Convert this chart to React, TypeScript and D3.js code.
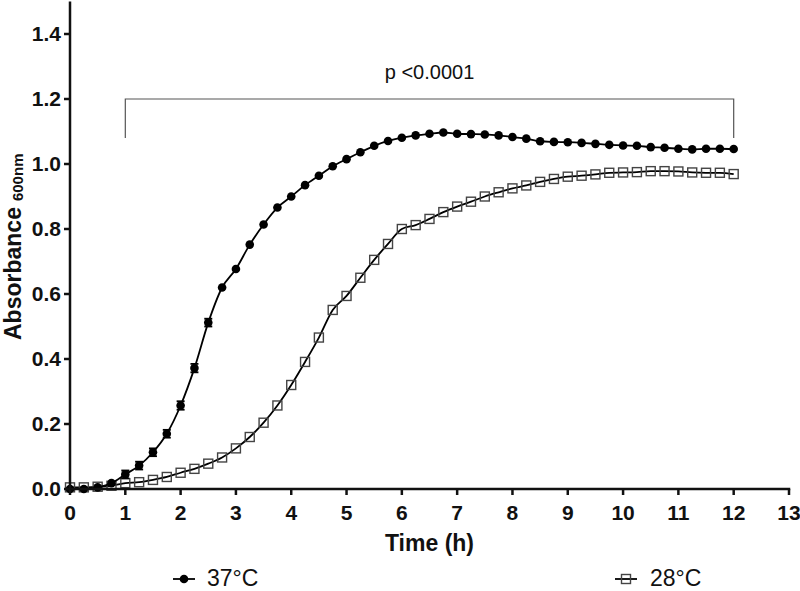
import React from "react";
import * as d3 from "d3";

const times: number[] = d3.range(0, 12.001, 0.25).map((t) => +t.toFixed(2));

const series37: number[] = [
  0.0, 0.0, 0.005, 0.018, 0.045, 0.072, 0.113, 0.17, 0.257, 0.372, 0.512, 0.62,
  0.677, 0.752, 0.814, 0.866, 0.9, 0.935, 0.964, 0.993, 1.015, 1.036, 1.056, 1.071,
  1.081, 1.088, 1.093, 1.097, 1.093, 1.092, 1.091, 1.088, 1.083, 1.078, 1.07, 1.068,
  1.067, 1.065, 1.062, 1.059, 1.057, 1.056, 1.052, 1.05, 1.047, 1.045, 1.047, 1.047,
  1.046,
];

const err37: number[] = [
  0, 0, 0, 0, 0.012, 0.012, 0.012, 0.012, 0.013, 0.013, 0.012, 0, 0, 0, 0, 0, 0, 0, 0,
  0, 0, 0, 0, 0, 0, 0, 0, 0, 0, 0, 0, 0, 0, 0, 0, 0, 0, 0, 0, 0, 0, 0, 0, 0, 0, 0, 0, 0, 0,
];

const series28: number[] = [
  0.005, 0.005, 0.007, 0.01, 0.018, 0.021, 0.028, 0.037, 0.05, 0.062, 0.078, 0.097,
  0.125, 0.16, 0.204, 0.257, 0.32, 0.391, 0.466, 0.551, 0.594, 0.65, 0.705, 0.754,
  0.8, 0.812, 0.831, 0.852, 0.869, 0.884, 0.9, 0.913, 0.925, 0.934, 0.945, 0.954,
  0.961, 0.964, 0.968, 0.973, 0.974, 0.975, 0.978, 0.978, 0.977, 0.974, 0.973, 0.973,
  0.969,
];

const xTicks: number[] = d3.range(0, 14, 1);
const yTicks: number[] = [0, 0.2, 0.4, 0.6, 0.8, 1.0, 1.2, 1.4];
const legendLabels: string[] = ["37°C", "28°C"];
const pLabel = "p <0.0001";

const FONT = "'Liberation Sans', Arial, Helvetica, sans-serif";

export default function App() {
  const W = 800;
  const H = 591;
  const x = d3.scaleLinear().domain([0, 13]).range([70, 789]);
  const y = d3.scaleLinear().domain([0, 1.5]).range([489, 1.5]);

  const line = d3
    .line<[number, number]>()
    .x((d) => x(d[0]))
    .y((d) => y(d[1]))
    .curve(d3.curveMonotoneX);

  const d37 = times.map((t, i) => [t, series37[i]] as [number, number]);
  const d28 = times.map((t, i) => [t, series28[i]] as [number, number]);

  const axisColor = "#111";
  const sq = 9;

  return (
    <svg
      width={W}
      height={H}
      style={{ position: "absolute", left: 0, top: 0, background: "#fff" }}
      fontFamily={FONT}
    >
      <rect x={0} y={0} width={W} height={H} fill="#fff" />

      {/* bracket */}
      <path
        d={`M${x(1)},${y(1.08)}V${y(1.2)}H${x(12)}V${y(1.08)}`}
        fill="none"
        stroke="#555"
        strokeWidth={1.2}
      />
      <text x={x(6.5)} y={79} fontSize={20} textAnchor="middle" fill="#111">
        {pLabel}
      </text>

      {/* 28 series */}
      <path d={line(d28) || ""} fill="none" stroke="#000" strokeWidth={1.8} />
      {d28.map((d, i) => (
        <rect
          key={"s" + i}
          x={x(d[0]) - sq / 2}
          y={y(d[1]) - sq / 2}
          width={sq}
          height={sq}
          fill="none"
          stroke="#444"
          strokeWidth={1.4}
        />
      ))}

      {/* 37 series */}
      <path d={line(d37) || ""} fill="none" stroke="#000" strokeWidth={1.8} />
      {d37.map((d, i) =>
        err37[i] > 0 ? (
          <g key={"e" + i} stroke="#000" strokeWidth={1.8}>
            <line x1={x(d[0])} x2={x(d[0])} y1={y(d[1] - err37[i])} y2={y(d[1] + err37[i])} />
            <line x1={x(d[0]) - 4} x2={x(d[0]) + 4} y1={y(d[1] - err37[i])} y2={y(d[1] - err37[i])} />
            <line x1={x(d[0]) - 4} x2={x(d[0]) + 4} y1={y(d[1] + err37[i])} y2={y(d[1] + err37[i])} />
          </g>
        ) : null
      )}
      {d37.map((d, i) => (
        <circle key={"c" + i} cx={x(d[0])} cy={y(d[1])} r={4.3} fill="#000" />
      ))}

      {/* y axis */}
      <line x1={x(0)} x2={x(0)} y1={y(1.5)} y2={y(0) + 1.25} stroke={axisColor} strokeWidth={2.5} />
      {yTicks.map((v) => (
        <g key={"yt" + v}>
          <line x1={x(0) - 6} x2={x(0)} y1={y(v)} y2={y(v)} stroke={axisColor} strokeWidth={2.5} />
          <text
            x={x(0) - 9}
            y={y(v)}
            dy="0.35em"
            fontSize={21}
            fontWeight="bold"
            textAnchor="end"
            fill="#111"
          >
            {v.toFixed(1)}
          </text>
        </g>
      ))}

      {/* x axis */}
      <line x1={x(0) - 1.25} x2={x(13) + 1.25} y1={y(0)} y2={y(0)} stroke={axisColor} strokeWidth={2.5} />
      {xTicks.map((t) => (
        <g key={"xt" + t}>
          <line x1={x(t)} x2={x(t)} y1={y(0)} y2={y(0) + 6} stroke={axisColor} strokeWidth={2.5} />
          <text x={x(t)} y={520} fontSize={21} fontWeight="bold" textAnchor="middle" fill="#111">
            {t}
          </text>
        </g>
      ))}

      {/* axis titles */}
      <text x={x(6.5)} y={551} fontSize={23} fontWeight="bold" textAnchor="middle" fill="#111">
        Time (h)
      </text>
      <text
        transform="translate(21,340) rotate(-90)"
        fontSize={23}
        fontWeight="bold"
        textAnchor="start"
        fill="#111"
      >
        Absorbance
        <tspan fontSize={15} fontWeight="bold" dx={6} dy={2}>
          600nm
        </tspan>
      </text>

      {/* legend */}
      <g>
        <line x1={173} x2={195} y1={579} y2={579} stroke="#000" strokeWidth={1.8} />
        <circle cx={184} cy={579} r={4.3} fill="#000" />
        <text x={207} y={586} fontSize={23} fill="#111">
          {legendLabels[0]}
        </text>
        <line x1={615} x2={637} y1={579} y2={579} stroke="#000" strokeWidth={1.8} />
        <rect x={626 - sq / 2} y={579 - sq / 2} width={sq} height={sq} fill="none" stroke="#444" strokeWidth={1.4} />
        <text x={650} y={586} fontSize={23} fill="#111">
          {legendLabels[1]}
        </text>
      </g>
    </svg>
  );
}
